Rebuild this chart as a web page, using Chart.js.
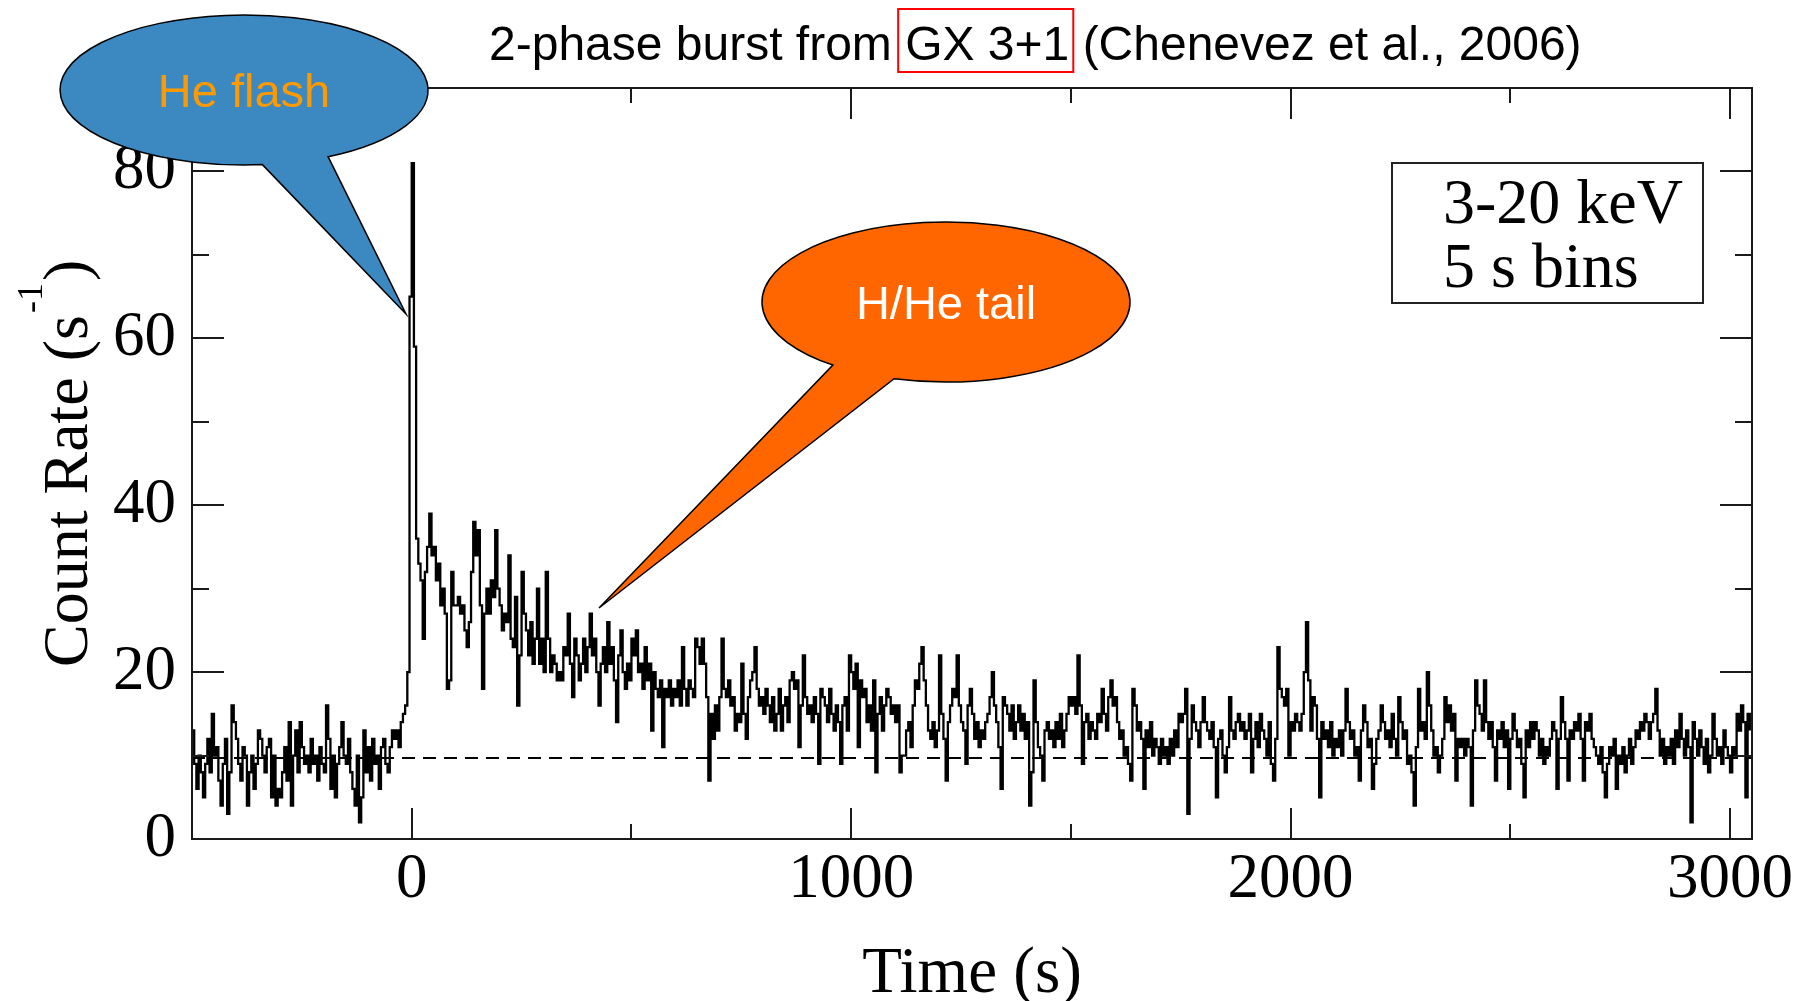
<!DOCTYPE html>
<html>
<head>
<meta charset="utf-8">
<title>GX 3+1 two-phase burst</title>
<script src="https://cdn.jsdelivr.net/npm/chart.js@4.4.0/dist/chart.umd.min.js"></script>
<style>
  html, body { margin: 0; padding: 0; background: #fff; }
  #wrap { width: 1810px; height: 1001px; }
</style>
</head>
<body>
<div id="wrap"><canvas id="burstChart" width="1810" height="1001"></canvas></div>
<script>
// Light curve, 3-20 keV, 5 s bins (count rate in s^-1)
const BIN = 5;

const preStart = -500;
const preRate = [
  13, 9, 6, 10, 8, 5, 9, 12, 8, 15, 10, 11, 7, 4, 9, 12, 3, 8, 16, 14,
  12, 9, 7, 11, 10, 4, 8, 10, 6, 9, 13, 12, 10, 8, 11, 12, 5, 10, 4, 6,
  5, 8, 11, 7, 14, 4, 10, 13, 8, 14, 11, 9, 10, 8, 12, 9, 10, 7, 11, 9,
  8, 16, 12, 6, 10, 5, 9, 11, 14, 10, 9, 12, 8, 6, 4, 10, 2, 5, 13, 8,
  11, 7, 12, 9, 10, 6, 11, 12, 9, 8, 11, 13, 12, 13, 11, 14, 15, 16
];

const peakStart = -10;
const peakRate = [
  20, 65, 81, 59, 36, 33, 31, 24, 32, 35, 39, 34, 35, 31, 33, 28, 30, 27, 18, 19, 32, 28,
  28, 29, 27, 28, 25, 23, 26, 32, 38, 34, 37, 28, 18, 27, 30, 27, 31, 29, 37, 30
];

const tailStart = 200;
const tailRate = [
  28, 25, 27, 26, 34, 24, 23, 29, 16, 22, 32, 27, 25, 22, 26, 21, 24, 30, 21, 24,
  20, 32, 24, 20, 22, 21, 19, 20, 19, 23, 22, 27, 21, 17, 24, 22, 19, 21, 24, 20,
  23, 27, 22, 24, 20, 16, 21, 23, 20, 26, 21, 23, 19, 14, 22, 25, 20, 18, 21, 19,
  24, 22, 25, 20, 21, 18, 23, 19, 21, 13, 20, 18, 17, 19, 11, 18, 17, 19, 16, 18,
  17, 19, 16, 23, 18, 16, 19, 18, 17, 24, 23, 21, 24, 21, 17, 7, 15, 12, 16, 13,
  17, 24, 18, 17, 19, 16, 17, 13, 15, 14, 21, 15, 12, 17, 19, 20, 23, 18, 16, 17,
  15, 18, 16, 14, 17, 13, 15, 18, 13, 16, 17, 14, 19, 20, 18, 19, 11, 16, 22, 17,
  15, 16, 14, 17, 15, 9, 18, 17, 16, 14, 18, 15, 13, 16, 14, 9, 16, 17, 13, 22,
  20, 18, 21, 11, 19, 17, 18, 14, 16, 13, 19, 8, 15, 17, 13, 16, 18, 17, 15, 16,
  14, 16, 8, 10, 10, 13, 14, 11, 16, 19, 18, 21, 23, 19, 16, 13, 12, 14, 11, 13,
  22, 15, 12, 7, 14, 16, 18, 17, 22, 16, 14, 13, 9, 16, 18, 15, 12, 14, 11, 13,
  12, 14, 15, 17, 20, 16, 14, 11, 6, 17, 16, 15, 13, 16, 12, 14, 16, 13, 15, 12,
  14, 4, 8, 19, 14, 11, 10, 7, 13, 14, 12, 13, 11, 14, 12, 15, 11, 13, 15, 17,
  16, 17, 15, 22, 16, 9, 14, 15, 12, 14, 13, 12, 15, 14, 18, 15, 13, 17, 19, 16,
  17, 14, 12, 13, 10, 11, 9, 7, 18, 16, 13, 14, 12, 6, 13, 11, 14, 10, 12, 11,
  9, 12, 10, 11, 9, 12, 10, 13, 11, 15, 14, 15, 18, 3, 12, 16, 14, 13, 11, 14,
  17, 14, 13, 12, 14, 11, 5, 12, 13, 10, 8, 11, 17, 13, 12, 14, 15, 13, 14, 12,
  13, 15, 8, 12, 14, 11, 15, 13, 12, 10, 14, 9, 7, 12, 23, 18, 17, 16, 18, 10,
  14, 13, 15, 14, 13, 15, 20, 26, 19, 13, 17, 16, 12, 5, 14, 12, 13, 11, 14, 10,
  12, 11, 13, 10, 13, 18, 14, 12, 13, 10, 11, 7, 13, 16, 14, 11, 12, 6, 9, 12,
  13, 16, 14, 12, 13, 11, 15, 12, 10, 17, 14, 12, 13, 9, 10, 8, 4, 11, 18, 13,
  14, 12, 20, 16, 13, 10, 11, 8, 10, 12, 17, 14, 16, 13, 15, 7, 12, 11, 12, 10,
  12, 11, 4, 13, 19, 16, 15, 13, 19, 14, 12, 14, 11, 7, 13, 12, 14, 11, 13, 6,
  12, 15, 13, 11, 12, 9, 5, 13, 11, 14, 12, 14, 13, 10, 12, 9, 11, 10, 12, 14,
  13, 6, 12, 17, 14, 12, 7, 13, 12, 14, 13, 15, 12, 7, 14, 13, 15, 12, 11, 10,
  9, 11, 8, 5, 9, 11, 10, 12, 6, 10, 9, 11, 8, 10, 12, 9, 11, 13, 12, 14,
  13, 15, 14, 12, 14, 15, 18, 13, 10, 12, 9, 11, 10, 12, 9, 13, 11, 15, 12, 10,
  13, 11, 2, 14, 12, 10, 13, 11, 9, 12, 8, 10, 15, 12, 10, 11, 9, 13, 11, 10,
  8, 11, 10, 15, 13, 16, 14, 5, 15, 13
];

// persistent emission level (dashed line)
const persistentLevel = 9.7;

const xRange = [-500, 3050];
const yRange = [0, 90];
const xMajorTicks = [0, 1000, 2000, 3000];
const xMinorTicks = [500, 1500, 2500];
const yMajorTicks = [0, 20, 40, 60, 80];
const yMinorTicks = [10, 30, 50, 70];

const titleParts = ['2-phase burst from ', 'GX 3+1', ' (Chenevez et al., 2006)'];
const xTitle = 'Time (s)';
const yTitle = 'Count Rate (s';
const yTitleSup = '-1';
const legendLines = ['3-20 keV', '5 s bins'];

const SERIF = "'Liberation Serif', 'Times New Roman', serif";
const SANS = "'Liberation Sans', Arial, sans-serif";
const AXIS_COLOR = '#1a1a1a';

// speech bubbles: ellipse + pointer (pixel layout of the slide)
const callouts = [
  { text: 'He flash', fill: '#3c89c1', color: '#ff9900',
    cx: 244, cy: 90, rx: 184, ry: 75, start: [263, 167], end: [331, 159], tip: [406, 314] },
  { text: 'H/He tail', fill: '#ff6600', color: '#ffffff',
    cx: 946, cy: 302, rx: 184, ry: 80, start: [833, 365], end: [896, 376], tip: [599, 608] }
];

function toPoints(start, rates) {
  return rates.map((v, i) => ({ x: start + i * BIN, y: v }));
}

const lightCurve = [
  ...toPoints(preStart, preRate),
  ...toPoints(peakStart, peakRate),
  ...toPoints(tailStart, tailRate)
];

function drawCallout(ctx, c) {
  const a1 = Math.atan2((c.start[1] - c.cy) / c.ry, (c.start[0] - c.cx) / c.rx);
  const a2 = Math.atan2((c.end[1] - c.cy) / c.ry, (c.end[0] - c.cx) / c.rx);
  ctx.beginPath();
  ctx.ellipse(c.cx, c.cy, c.rx, c.ry, 0, a1, a2, false);
  ctx.lineTo(c.tip[0], c.tip[1]);
  ctx.closePath();
  ctx.fillStyle = c.fill;
  ctx.fill();
  ctx.lineWidth = 1.5;
  ctx.strokeStyle = '#000';
  ctx.stroke();

  ctx.font = `47px ${SANS}`;
  ctx.fillStyle = c.color;
  ctx.textAlign = 'center';
  ctx.textBaseline = 'middle';
  ctx.fillText(c.text, c.cx, c.cy + 4);
}

const slideDecor = {
  id: 'slideDecor',
  afterDatasetsDraw(chart) {
    const { ctx, chartArea: a, scales: { x, y } } = chart;
    ctx.save();
    ctx.strokeStyle = AXIS_COLOR;
    ctx.lineWidth = 2;
    ctx.beginPath();
    // frame
    ctx.rect(a.left, a.top, a.right - a.left, a.bottom - a.top);
    // inward ticks on all four sides
    const xTick = (v, len) => {
      const px = Math.round(x.getPixelForValue(v));
      ctx.moveTo(px, a.bottom); ctx.lineTo(px, a.bottom - len);
      ctx.moveTo(px, a.top); ctx.lineTo(px, a.top + len);
    };
    const yTick = (v, len) => {
      const py = Math.round(y.getPixelForValue(v));
      ctx.moveTo(a.left, py); ctx.lineTo(a.left + len, py);
      ctx.moveTo(a.right, py); ctx.lineTo(a.right - len, py);
    };
    xMajorTicks.forEach(v => xTick(v, 31));
    xMinorTicks.forEach(v => xTick(v, 15));
    yMajorTicks.forEach(v => yTick(v, 32));
    yMinorTicks.forEach(v => yTick(v, 17));
    ctx.stroke();

    // legend box
    ctx.lineWidth = 2;
    ctx.strokeStyle = '#222';
    ctx.strokeRect(1392, 163, 311, 140);
    ctx.fillStyle = '#000';
    ctx.font = `64px ${SERIF}`;
    ctx.textAlign = 'left';
    ctx.textBaseline = 'alphabetic';
    ctx.fillText(legendLines[0], 1443, 223);
    ctx.fillText(legendLines[1], 1443, 287);
    ctx.restore();
  },
  afterDraw(chart) {
    const { ctx } = chart;
    ctx.save();

    // y axis title with superscript
    ctx.translate(87, 667);
    ctx.rotate(-Math.PI / 2);
    ctx.fillStyle = '#000';
    ctx.textAlign = 'left';
    ctx.textBaseline = 'alphabetic';
    ctx.font = `64px ${SERIF}`;
    ctx.fillText(yTitle, 0, 0);
    let w = ctx.measureText(yTitle).width;
    ctx.font = `36px ${SERIF}`;
    ctx.fillText(yTitleSup, w + 2, -45);
    w += 2 + ctx.measureText(yTitleSup).width;
    ctx.font = `64px ${SERIF}`;
    ctx.fillText(')', w + 2, 0);
    ctx.setTransform(1, 0, 0, 1, 0, 0);

    callouts.forEach(c => drawCallout(ctx, c));

    // slide title with red box around the source name
    ctx.font = `48px ${SANS}`;
    ctx.fillStyle = '#000';
    ctx.textAlign = 'left';
    ctx.textBaseline = 'alphabetic';
    let tx = 489;
    const ty = 60;
    const boxStart = tx + ctx.measureText(titleParts[0]).width;
    titleParts.forEach(p => {
      ctx.fillText(p, tx, ty);
      tx += ctx.measureText(p).width;
    });
    const boxEnd = boxStart + ctx.measureText(titleParts[1]).width;
    ctx.strokeStyle = '#ff0000';
    ctx.lineWidth = 2;
    ctx.strokeRect(boxStart - 7, 9, boxEnd - boxStart + 11, 63);
    ctx.restore();
  }
};

new Chart(document.getElementById('burstChart'), {
  type: 'line',
  data: {
    datasets: [
      {
        data: lightCurve,
        borderColor: '#000',
        borderWidth: 2.3,
        stepped: 'before',
        pointRadius: 0,
        fill: false
      },
      {
        data: [{ x: xRange[0], y: persistentLevel }, { x: xRange[1], y: persistentLevel }],
        borderColor: '#000',
        borderWidth: 2,
        borderDash: [13, 8],
        pointRadius: 0,
        fill: false
      }
    ]
  },
  options: {
    responsive: false,
    devicePixelRatio: 1,
    animation: false,
    events: [],
    layout: { padding: { left: 0, right: 58, top: 88, bottom: 0 } },
    plugins: { legend: { display: false }, tooltip: { enabled: false } },
    scales: {
      x: {
        type: 'linear',
        min: xRange[0],
        max: xRange[1],
        afterBuildTicks: s => { s.ticks = xMajorTicks.map(v => ({ value: v })); },
        afterFit: s => { s.height = 162; s.paddingLeft = 0; s.paddingRight = 0; },
        grid: { display: false, drawTicks: false },
        border: { display: false },
        ticks: {
          color: '#000',
          font: { family: SERIF, size: 63, lineHeight: 1 },
          padding: 10,
          maxRotation: 0,
          autoSkip: false,
          callback: v => String(v)
        },
        title: {
          display: true,
          text: xTitle,
          color: '#000',
          font: { family: SERIF, size: 65, lineHeight: 0.8 },
          padding: { top: 0, bottom: 0 }
        }
      },
      y: {
        min: yRange[0],
        max: yRange[1],
        afterBuildTicks: s => { s.ticks = yMajorTicks.map(v => ({ value: v })); },
        afterFit: s => { s.width = 192; s.paddingTop = 0; s.paddingBottom = 0; },
        grid: { display: false, drawTicks: false },
        border: { display: false },
        ticks: {
          color: '#000',
          font: { family: SERIF, size: 63, lineHeight: 1 },
          padding: 16,
          autoSkip: false,
          callback: v => String(v)
        }
      }
    }
  },
  plugins: [slideDecor]
});
</script>
</body>
</html>
